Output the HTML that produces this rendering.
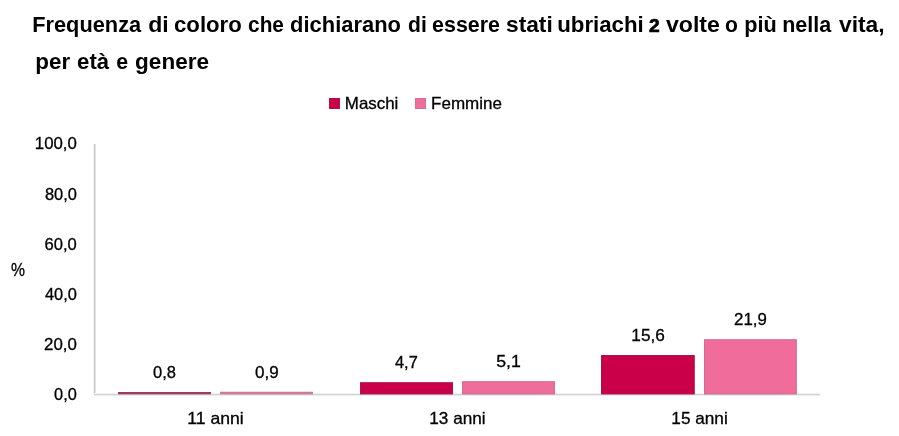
<!DOCTYPE html>
<html>
<head>
<meta charset="utf-8">
<style>
html,body{margin:0;padding:0;background:#fff;}
body{width:899px;height:436px;overflow:hidden;}
svg{display:block;will-change:transform;}
text{font-family:"Liberation Sans",sans-serif;}
.t{font-weight:bold;fill:#000;}
.r{fill:#000;stroke:#000;stroke-width:0.3px;}
</style>
</head>
<body>
<svg width="899" height="436" viewBox="0 0 899 436">
<rect x="0" y="0" width="899" height="436" fill="#fff"/>
<rect x="329" y="98" width="11" height="11" fill="#CA0049"/>
<rect x="329.5" y="98.5" width="10" height="10" fill="none" stroke="#8E2656" stroke-opacity="0.5"/>
<rect x="415" y="98" width="11" height="11" fill="#F06C9A"/>
<rect x="415.5" y="98.5" width="10" height="10" fill="none" stroke="#C0708E" stroke-opacity="0.5"/>
<rect x="93" y="144" width="1" height="251" fill="#F2F2F2"/>
<rect x="94" y="144" width="1" height="251" fill="#C9C9C9"/>
<rect x="95" y="144" width="1" height="251" fill="#E4E4E4"/>
<rect x="94" y="393" width="726" height="1" fill="#F1F1F1"/>
<rect x="94" y="394" width="726" height="1" fill="#D2D2D2"/>
<rect x="94" y="395" width="726" height="1" fill="#ECECEC"/>
<rect x="118" y="392.00" width="93" height="2.30" fill="#A03A64"/>
<rect x="220" y="391.75" width="93" height="2.55" fill="#CE7C96"/>
<rect x="360" y="382.25" width="93" height="12.05" fill="#CA0049"/>
<rect x="360.5" y="382.75" width="92" height="11.05" fill="none" stroke="#8E2656" stroke-width="1" stroke-opacity="0.6"/>
<rect x="462" y="381.25" width="93" height="13.05" fill="#F06C9A"/>
<rect x="462.5" y="381.75" width="92" height="12.05" fill="none" stroke="#C0708E" stroke-width="1" stroke-opacity="0.6"/>
<rect x="601" y="355.00" width="93.7" height="39.30" fill="#CA0049"/>
<rect x="601.5" y="355.50" width="92.7" height="38.30" fill="none" stroke="#8E2656" stroke-width="1" stroke-opacity="0.6"/>
<rect x="704" y="339.25" width="92.8" height="55.05" fill="#F06C9A"/>
<rect x="704.5" y="339.75" width="91.8" height="54.05" fill="none" stroke="#C0708E" stroke-width="1" stroke-opacity="0.6"/>
<text class="t" x="32.22" y="32.00" textLength="108.92" lengthAdjust="spacingAndGlyphs" style="font-size:22.5px">Frequenza</text>
<text class="t" x="148.16" y="32.00" textLength="20.48" lengthAdjust="spacingAndGlyphs" style="font-size:22.5px">di</text>
<text class="t" x="174.00" y="32.00" textLength="67.82" lengthAdjust="spacingAndGlyphs" style="font-size:22.5px">coloro</text>
<text class="t" x="248.06" y="32.00" textLength="35.90" lengthAdjust="spacingAndGlyphs" style="font-size:22.5px">che</text>
<text class="t" x="290.10" y="32.00" textLength="110.82" lengthAdjust="spacingAndGlyphs" style="font-size:22.5px">dichiarano</text>
<text class="t" x="408.04" y="32.00" textLength="18.74" lengthAdjust="spacingAndGlyphs" style="font-size:22.5px">di</text>
<text class="t" x="432.10" y="32.00" textLength="67.82" lengthAdjust="spacingAndGlyphs" style="font-size:22.5px">essere</text>
<text class="t" x="506.06" y="32.00" textLength="46.68" lengthAdjust="spacingAndGlyphs" style="font-size:22.5px">stati</text>
<text class="t" x="557.20" y="32.00" textLength="86.60" lengthAdjust="spacingAndGlyphs" style="font-size:22.5px">ubriachi</text>
<text class="t" x="649.12" y="32.00" textLength="10.70" lengthAdjust="spacingAndGlyphs" style="font-size:19px;stroke:#000;stroke-width:0.7px">2</text>
<text class="t" x="665.96" y="32.00" textLength="53.98" lengthAdjust="spacingAndGlyphs" style="font-size:22.5px">volte</text>
<text class="t" x="725.08" y="32.00" textLength="12.90" lengthAdjust="spacingAndGlyphs" style="font-size:22.5px">o</text>
<text class="t" x="744.20" y="32.00" textLength="32.50" lengthAdjust="spacingAndGlyphs" style="font-size:22.5px">più</text>
<text class="t" x="782.24" y="32.00" textLength="48.98" lengthAdjust="spacingAndGlyphs" style="font-size:22.5px">nella</text>
<text class="t" x="838.96" y="32.00" textLength="45.70" lengthAdjust="spacingAndGlyphs" style="font-size:22.5px">vita,</text>
<text class="t" x="35.26" y="69.00" textLength="34.84" lengthAdjust="spacingAndGlyphs" style="font-size:22.5px">per</text>
<text class="t" x="77.10" y="69.00" textLength="32.02" lengthAdjust="spacingAndGlyphs" style="font-size:22.5px">età</text>
<text class="t" x="116.14" y="69.00" textLength="11.86" lengthAdjust="spacingAndGlyphs" style="font-size:22.5px">e</text>
<text class="t" x="135.10" y="69.00" textLength="73.90" lengthAdjust="spacingAndGlyphs" style="font-size:22.5px">genere</text>
<text class="r" x="344.82" y="109.00" textLength="53.56" lengthAdjust="spacingAndGlyphs" style="font-size:16.5px">Maschi</text>
<text class="r" x="431.10" y="109.00" textLength="70.90" lengthAdjust="spacingAndGlyphs" style="font-size:16.5px">Femmine</text>
<text class="r" x="34.80" y="149.20" textLength="42.06" lengthAdjust="spacingAndGlyphs" style="font-size:16.5px">100,0</text>
<text class="r" x="44.88" y="199.50" textLength="31.98" lengthAdjust="spacingAndGlyphs" style="font-size:16.5px">80,0</text>
<text class="r" x="44.56" y="249.80" textLength="32.30" lengthAdjust="spacingAndGlyphs" style="font-size:16.5px">60,0</text>
<text class="r" x="44.96" y="299.90" textLength="31.90" lengthAdjust="spacingAndGlyphs" style="font-size:16.5px">40,0</text>
<text class="r" x="44.06" y="349.90" textLength="32.80" lengthAdjust="spacingAndGlyphs" style="font-size:16.5px">20,0</text>
<text class="r" x="54.12" y="400.00" textLength="22.74" lengthAdjust="spacingAndGlyphs" style="font-size:16.5px">0,0</text>
<text class="r" x="11.00" y="276.30" textLength="14.00" lengthAdjust="spacingAndGlyphs" style="font-size:18px">%</text>
<text class="r" x="153.00" y="377.70" textLength="22.94" lengthAdjust="spacingAndGlyphs" style="font-size:16.5px">0,8</text>
<text class="r" x="255.12" y="377.70" textLength="23.66" lengthAdjust="spacingAndGlyphs" style="font-size:16.5px">0,9</text>
<text class="r" x="395.00" y="367.90" textLength="22.80" lengthAdjust="spacingAndGlyphs" style="font-size:16.5px">4,7</text>
<text class="r" x="496.20" y="367.00" textLength="24.60" lengthAdjust="spacingAndGlyphs" style="font-size:16.5px">5,1</text>
<text class="r" x="631.32" y="340.90" textLength="33.52" lengthAdjust="spacingAndGlyphs" style="font-size:16.5px">15,6</text>
<text class="r" x="734.06" y="324.80" textLength="32.82" lengthAdjust="spacingAndGlyphs" style="font-size:16.5px">21,9</text>
<text class="r" x="187.34" y="424.00" textLength="56.42" lengthAdjust="spacingAndGlyphs" style="font-size:16.5px">11 anni</text>
<text class="r" x="429.32" y="424.00" textLength="56.38" lengthAdjust="spacingAndGlyphs" style="font-size:16.5px">13 anni</text>
<text class="r" x="671.34" y="424.00" textLength="56.42" lengthAdjust="spacingAndGlyphs" style="font-size:16.5px">15 anni</text>
</svg>
</body>
</html>
